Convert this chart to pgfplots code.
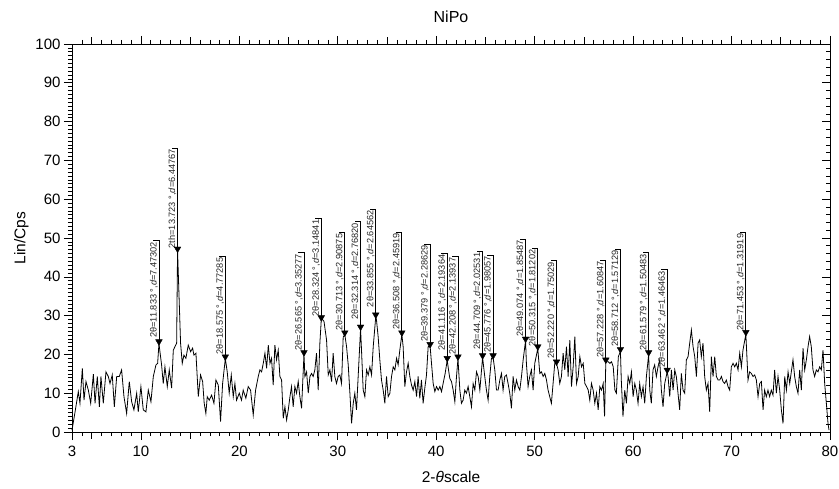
\documentclass[border=0pt]{standalone}
\usepackage{fontspec}
\setmainfont{Liberation Sans}
\usepackage{pgfplots}
\pgfplotsset{compat=1.18}

% peak annotation: x, marker y, top of leader, x of leader's left end, text
\newcommand{\peak}[5]{%
  \addplot[black, line width=0.8pt, mark=none] coordinates {(#1,#2) (#1,#3) (#4,#3)};
  \node[rotate=90, anchor=south east, inner sep=1pt, text=black!85,
        font=\fontsize{9.2}{10}\selectfont] at (axis cs:#1,#3) {#5};
}

\begin{document}
\begin{tikzpicture}
\useasboundingbox (-72pt,-56pt) rectangle (767pt,432pt);
\pgfplotsset{
  common/.style={
    scale only axis, width=758pt, height=388pt,
    xmin=3, xmax=80, ymin=0, ymax=100,
    axis line style={line width=0.8pt},
    every tick/.style={black, line width=0.6pt},
    major tick length=8pt, minor tick length=4pt,
  }
}
% top ticks, outside
\begin{axis}[common, tick align=outside, xtick pos=right, ytick=\empty,
  xtick={10,20,...,80}, xticklabels={}, minor xtick={4,...,79},
  extra x ticks={5,15,...,75}, extra x tick labels={},
  extra x tick style={major tick length=6.5pt}]
\end{axis}
% right ticks, inside
\begin{axis}[common, tick align=inside, ytick pos=right, xtick=\empty,
  ytick={0,10,...,100}, yticklabels={}, minor y tick num=4]
\end{axis}

\begin{axis}[common,
  tick align=outside, tick pos=left, clip=false,
  xtick={3,10,20,30,40,50,60,70,80},
  minor xtick={4,...,79},
  extra x ticks={5,15,...,75}, extra x tick labels={},
  extra x tick style={major tick length=6.5pt},
  ytick={0,10,...,100}, minor ytick={1,...,99},
  /pgf/number format/assume math mode=true,
  tick label style={font=\fontsize{15}{18}\selectfont},
  xticklabel style={yshift=-2pt},
  label style={font=\fontsize{15.5}{18}\selectfont},
  xlabel style={yshift=6pt},
  title style={font=\fontsize{16}{18}\selectfont, yshift=12pt},
  title={NiPo},
  xlabel={2-\textit{θ}scale},
  ylabel={Lin/Cps},
]
\addplot[black, line width=0.8pt, mark=none] coordinates {
(3.0,0.5) (3.3,5.0) (3.64,10.4) (3.81,7.4) (4.05,16.4) (4.22,8.2) (4.42,13.0) (4.66,10.8)
(4.90,7.4) (5.17,14.9) (5.34,7.4) (5.57,14.3) (5.78,6.5) (5.94,14.3) (6.18,7.4) (6.45,15.5)
(6.69,14.3) (6.86,12.5) (7.09,14.7) (7.30,6.5) (7.54,14.3) (7.80,14.3) (8.04,16.0) (8.28,9.1)
(8.55,4.8) (8.82,13.0) (9.06,7.8) (9.29,5.7) (9.57,10.0) (9.73,5.2) (10.0,11.7) (10.24,5.7)
(10.51,5.2) (10.75,10.8) (11.02,7.8) (11.26,14.3) (11.53,17.3) (11.70,17.7) (11.833,22.8)
(12.10,17.3) (12.27,12.5) (12.44,16.8) (12.68,11.7) (12.88,16.0) (13.12,11.3) (13.29,21.1)
(13.46,22.0) (13.63,22.9) (13.723,46.7) (14.03,22.9) (14.20,17.7) (14.37,19.8) (14.57,19.0)
(14.81,22.4) (15.05,20.7) (15.25,21.6) (15.39,19.8) (15.59,20.3) (15.83,9.1) (16.06,14.7)
(16.27,13.0) (16.43,7.4) (16.60,4.8) (16.74,9.1) (16.94,8.2) (17.18,9.5) (17.42,7.4)
(17.62,13.4) (17.86,12.1) (18.09,2.7) (18.30,12.5) (18.575,18.9) (18.77,15.5) (18.97,10.0)
(19.18,14.7) (19.38,9.1) (19.55,12.5) (19.72,8.2) (19.99,10.0) (20.22,8.2) (20.39,10.8)
(20.66,8.7) (20.90,11.7) (21.14,10.8) (21.41,4.4) (21.65,10.8) (21.92,14.3)
(22.09,16.0) (22.26,15.5) (22.43,17.7) (22.60,20.3) (22.77,16.4) (22.94,22.4) (23.11,17.7)
(23.27,19.0) (23.44,12.1) (23.61,22.4) (23.78,18.6) (23.95,21.1) (24.12,14.3) (24.29,13.4)
(24.46,3.5) (24.63,6.5) (24.80,3.1) (24.97,5.7) (25.14,9.1) (25.30,11.7) (25.47,6.5)
(25.64,11.7) (25.81,10.0) (25.98,13.0) (26.15,9.1) (26.32,6.1) (26.565,20.0) (26.66,14.3)
(26.83,15.5) (27.00,10.0) (27.17,14.3) (27.33,15.1) (27.50,14.3) (27.67,16.0) (27.84,20.3)
(28.01,10.8) (28.18,22.9) (28.324,29.0) (28.45,29.0) (28.60,28.5) (28.86,23.7) (29.03,14.7)
(29.20,16.0) (29.37,13.0) (29.53,20.3) (29.70,14.3) (29.87,12.5) (30.04,14.3) (30.21,14.7)
(30.38,12.5) (30.55,24.5) (30.713,25.1) (30.89,22.0) (31.06,17.3) (31.23,10.0) (31.40,2.2)
(31.57,7.4) (31.73,10.0) (31.90,5.7) (32.07,14.3) (32.314,26.6) (32.41,21.1) (32.58,10.8)
(32.75,9.1) (32.92,16.0) (33.09,14.7) (33.26,16.8) (33.43,14.7) (33.60,22.0) (33.855,29.7)
(33.93,28.9) (34.10,24.6) (34.27,18.6) (34.44,13.4) (34.61,10.8) (34.78,7.4) (34.95,14.3)
(35.12,9.1) (35.29,10.0) (35.46,14.3) (35.63,16.8) (35.80,16.0) (35.97,19.0) (36.13,17.3)
(36.30,21.1) (36.508,25.1) (36.64,22.0) (36.81,11.7) (36.98,15.5) (37.15,17.7) (37.32,14.3)
(37.49,12.1) (37.66,10.8) (37.83,13.0) (38.00,9.1) (38.16,14.3) (38.33,8.7) (38.50,13.4)
(38.67,7.4) (38.84,11.3) (39.01,14.7) (39.18,22.0) (39.379,22.1) (39.52,17.7) (39.69,12.5)
(39.86,10.4) (40.03,11.7) (40.20,10.8) (40.37,11.7) (40.54,10.4) (40.70,12.5) (40.90,15.0)
(41.116,18.5) (41.25,16.0)
(41.38,13.8) (41.55,13.0) (41.72,10.8) (41.89,7.8) (42.06,14.3) (42.208,18.9) (42.40,10.8)
(42.56,7.4) (42.73,8.2) (42.90,10.8) (43.07,10.0) (43.24,11.7) (43.41,9.1) (43.58,6.5)
(43.75,12.5) (43.92,10.8) (44.09,15.5) (44.26,14.3) (44.43,10.8) (44.709,19.2) (44.93,14.3)
(45.10,10.8) (45.27,8.2) (45.44,14.3) (45.61,19.0) (45.776,19.2) (45.95,16.0) (46.12,10.8)
(46.29,10.8) (46.46,13.4) (46.63,15.1) (46.79,10.8) (46.96,14.3) (47.13,14.7) (47.30,12.5)
(47.47,10.0) (47.64,6.1) (47.81,14.3) (47.98,10.8) (48.15,13.4) (48.32,11.7) (48.49,10.8)
(48.66,14.3) (48.83,18.6) (49.074,23.5) (49.16,17.7) (49.33,11.7) (49.50,14.3) (49.67,16.0)
(49.84,10.8) (50.01,17.7) (50.315,21.5) (50.52,15.1) (50.69,15.5) (50.86,14.3) (51.03,15.1)
(51.20,13.4) (51.36,10.8) (51.53,9.1) (51.70,7.4) (51.87,12.5) (52.04,17.7) (52.220,17.6)
(52.38,16.0) (52.55,12.5) (52.72,14.3) (52.89,20.3) (53.06,16.0) (53.23,22.0) (53.40,14.3)
(53.57,23.7) (53.74,11.7) (53.91,16.8) (54.08,24.6) (54.25,12.5) (54.42,14.3) (54.59,19.4)
(54.76,16.8) (54.93,17.7) (55.10,12.5) (55.27,11.7) (55.44,10.8) (55.60,8.2) (55.77,12.5)
(55.94,10.8) (56.11,7.4) (56.28,10.0) (56.45,5.7) (56.62,11.7) (56.79,10.8) (56.96,12.5)
(57.10,4.0) (57.228,18.1) (57.47,18.1) (57.64,17.7) (57.81,18.1) (57.98,16.8) (58.15,10.8)
(58.30,10.0) (58.50,19.4) (58.712,20.8) (58.80,13.4) (58.97,4.0) (59.15,10.8) (59.32,7.4)
(59.49,14.3) (59.66,12.5) (59.83,15.5) (60.00,9.1) (60.17,12.5) (60.33,10.8) (60.50,7.4)
(60.67,12.5) (60.84,9.1) (61.01,11.7) (61.18,7.4) (61.35,14.3) (61.579,20.0) (61.69,10.8)
(61.85,7.4) (62.02,16.0) (62.19,17.3) (62.36,14.3) (62.53,16.8) (62.70,18.6) (62.87,10.8)
(63.04,6.5) (63.21,12.5) (63.462,15.5) (63.55,14.3) (63.72,9.1) (63.89,16.0) (64.06,10.8)
(64.23,16.0) (64.39,14.3) (64.56,10.0) (64.73,5.7) (64.90,15.1) (65.07,10.8) (65.24,10.0)
(65.41,18.6) (65.58,19.4) (65.75,22.9) (65.92,26.3) (66.09,22.0) (66.26,19.4) (66.43,14.3)
(66.60,22.9) (66.76,23.7) (66.93,19.4) (67.10,22.9) (67.27,14.3) (67.44,10.8) (67.61,12.5)
(67.78,5.2) (67.95,19.4) (68.12,14.3) (68.29,19.4) (68.46,14.3) (68.63,13.4) (68.80,13.4)
(68.97,14.3) (69.13,13.0) (69.30,12.5) (69.47,13.4) (69.64,11.7) (69.81,10.8) (69.98,16.8)
(70.15,17.7) (70.32,16.8) (70.49,17.7) (70.66,16.0) (70.83,20.3) (71.00,16.8) (71.16,21.1)
(71.453,25.2) (71.67,13.4) (71.84,15.5) (72.01,15.1) (72.18,14.3) (72.35,14.7) (72.52,13.4)
(72.69,9.1) (72.86,12.5) (73.03,13.0) (73.20,5.7) (73.36,10.8) (73.53,9.1) (73.70,10.8)
(73.87,9.1) (74.04,10.8) (74.21,9.5) (74.38,16.0) (74.55,10.0) (74.72,14.3) (74.89,10.8)
(75.06,5.7) (75.23,2.2) (75.40,14.3) (75.57,10.8) (75.74,15.5) (75.91,12.5) (76.07,15.5)
(76.24,18.6) (76.41,14.3) (76.58,11.7) (76.75,10.0) (76.92,16.0) (77.09,10.8) (77.26,21.6)
(77.43,16.0) (77.60,18.6) (77.77,22.0) (77.93,24.6) (78.10,22.0) (78.27,16.0) (78.44,14.3)
(78.61,16.0) (78.78,15.5) (78.95,16.8) (79.12,16.0) (79.29,21.1) (79.46,12.5) (79.63,7.4)
(79.80,2.2) (79.90,0.5)
};
\peak{11.833}{23.3}{49.3}{11.233}{2θ=11.833 °,\textit{d}=7.47302}
\peak{13.723}{47.2}{73.2}{13.123}{2th=13.723 °,\textit{d}=6.44767}
\peak{18.575}{19.4}{45.2}{17.975}{2θ=18.575 °,\textit{d}=4.77285}
\peak{26.565}{20.5}{46.2}{25.965}{2θ=26.565 °,\textit{d}=3.35277}
\peak{28.324}{29.5}{55.0}{27.724}{2θ=28.324 °,\textit{d}=3.14841}
\peak{30.713}{25.6}{51.4}{30.113}{2θ=30.713 °,\textit{d}=2.90875}
\peak{32.314}{27.1}{54.2}{31.714}{2θ=32.314 °,\textit{d}=2.76820}
\peak{33.855}{30.2}{57.4}{33.255}{2θ=33.855 °,\textit{d}=2.64562}
\peak{36.508}{25.6}{51.5}{35.908}{2θ=36.508 °,\textit{d}=2.45919}
\peak{39.379}{22.6}{48.4}{38.779}{2θ=39.379 °,\textit{d}=2.28629}
\peak{41.116}{19.0}{46.0}{40.516}{2θ=41.116 °,\textit{d}=2.19364}
\peak{42.208}{19.4}{45.2}{41.608}{2θ=42.208 °,\textit{d}=2.13937}
\peak{44.709}{19.7}{46.5}{44.109}{2θ=44.709 °,\textit{d}=2.02531}
\peak{45.776}{19.7}{45.6}{45.176}{2θ=45.776 °,\textit{d}=1.98057}
\peak{49.074}{24.0}{49.7}{48.474}{2θ=49.074 °,\textit{d}=1.85487}
\peak{50.315}{22.0}{47.3}{49.715}{2θ=50.315 °,\textit{d}=1.81202}
\peak{52.220}{18.1}{44.1}{51.620}{2θ=52.220 °,\textit{d}=1.75029}
\peak{57.228}{18.6}{44.3}{56.628}{2θ=57.228 °,\textit{d}=1.60847}
\peak{58.712}{21.3}{47.1}{58.112}{2θ=58.712 °,\textit{d}=1.57129}
\peak{61.579}{20.5}{46.2}{60.979}{2θ=61.579 °,\textit{d}=1.50483}
\peak{63.462}{16.0}{41.8}{62.862}{2θ=63.462 °,\textit{d}=1.46463}
\peak{71.453}{25.7}{51.4}{70.853}{2θ=71.453 °,\textit{d}=1.31919}
\addplot[only marks, mark=triangle*, mark size=3.8pt,
  mark options={rotate=180, fill=black, draw=black}] coordinates {
(11.833,23.3) (13.723,47.2) (18.575,19.4) (26.565,20.5) (28.324,29.5) (30.713,25.6)
(32.314,27.1) (33.855,30.2) (36.508,25.6) (39.379,22.6) (41.116,19.0) (42.208,19.4)
(44.709,19.7) (45.776,19.7) (49.074,24.0) (50.315,22.0) (52.220,18.1) (57.228,18.6)
(58.712,21.3) (61.579,20.5) (63.462,16.0) (71.453,25.7)
};
\end{axis}
\end{tikzpicture}
\end{document}
